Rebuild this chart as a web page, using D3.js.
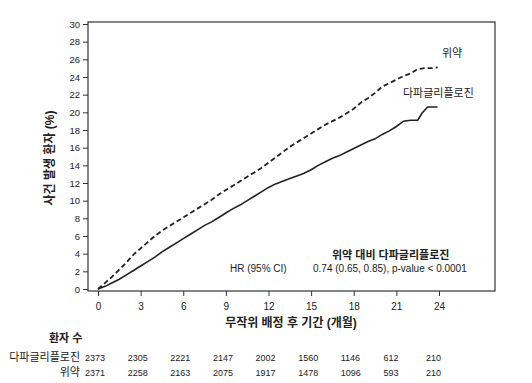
<!DOCTYPE html>
<html>
<head>
<meta charset="utf-8">
<script src="https://d3js.org/d3.v7.min.js"></script>
<style>
	body { margin: 0; background: #fff; }
	svg text { font-family: "Liberation Sans", Arial, "Noto Sans CJK KR", sans-serif; fill: #222; }
	.bold { font-weight: bold; }
</style>
</head>
<body>
<svg id="chart" width="532" height="383"></svg>
<script>
// months and cumulative event rates (%)
var placeboMonths = [0, 0.5, 1, 1.5, 2, 2.5, 3, 3.5, 4, 4.5, 5, 5.5, 6, 6.5, 7, 7.5, 8, 8.5, 9, 9.5, 10, 10.5, 11, 11.5, 12, 12.5, 13, 13.5, 14, 14.5, 15, 15.5, 16, 16.5, 17, 17.5, 18, 18.5, 19, 19.5, 20, 20.5, 21, 21.5, 22, 22.5, 23, 23.5, 23.9];
var placeboRate = [0, 0.7, 1.4, 2.2, 3.0, 3.9, 4.6, 5.3, 6.0, 6.6, 7.1, 7.6, 8.1, 8.6, 9.1, 9.6, 10.1, 10.7, 11.2, 11.7, 12.2, 12.7, 13.2, 13.7, 14.3, 14.9, 15.5, 16.1, 16.6, 17.1, 17.6, 18.1, 18.6, 19.0, 19.4, 19.9, 20.4, 21.1, 21.6, 22.2, 22.9, 23.3, 23.7, 24.1, 24.4, 24.9, 25.0, 25.0, 25.1];
var dapaMonths = [0, 0.5, 1, 1.5, 2, 2.5, 3, 3.5, 4, 4.5, 5, 5.5, 6, 6.5, 7, 7.5, 8, 8.5, 9, 9.5, 10, 10.5, 11, 11.5, 12, 12.5, 13, 13.5, 14, 14.5, 15, 15.5, 16, 16.5, 17, 17.5, 18, 18.5, 19, 19.5, 20, 20.5, 21, 21.5, 22, 22.5, 22.8, 23.2, 23.9];
var dapaRate = [0, 0.3, 0.7, 1.1, 1.6, 2.1, 2.6, 3.1, 3.6, 4.2, 4.7, 5.2, 5.7, 6.2, 6.7, 7.2, 7.6, 8.1, 8.6, 9.1, 9.5, 10.0, 10.5, 11.0, 11.5, 11.9, 12.2, 12.5, 12.8, 13.1, 13.5, 14.0, 14.4, 14.8, 15.1, 15.5, 15.9, 16.3, 16.7, 17.0, 17.5, 17.9, 18.4, 19.0, 19.1, 19.1, 19.9, 20.6, 20.6];

var xTicks = [0, 3, 6, 9, 12, 15, 18, 21, 24];
var yTicks = [0, 2, 4, 6, 8, 10, 12, 14, 16, 18, 20, 22, 24, 26, 28, 30];
var atRiskDapa = [2373, 2305, 2221, 2147, 2002, 1560, 1146, 612, 210];
var atRiskPlacebo = [2371, 2258, 2163, 2075, 1917, 1478, 1096, 593, 210];

var svg = d3.select("#chart");

var x = d3.scaleLinear().domain([0, 24]).range([98, 439]);
var y = d3.scaleLinear().domain([0, 30]).range([289, 24]);

// frame
svg.append("rect")
	.attr("x", 88).attr("y", 22)
	.attr("width", 407).attr("height", 269)
	.attr("fill", "none").attr("stroke", "#333").attr("stroke-width", 1.2);

// y axis
var gy = svg.append("g")
	.attr("transform", "translate(88,0)")
	.call(d3.axisLeft(y).tickValues(yTicks).tickSize(5).tickPadding(3))
gy.select(".domain").remove();
gy.selectAll("line").attr("stroke", "#333");
gy.selectAll("text").style("font-size", "9.5px");

// x axis
var gx = svg.append("g")
	.attr("transform", "translate(0,291)")
	.call(d3.axisBottom(x).tickValues(xTicks).tickSize(5).tickPadding(7))
gx.select(".domain").remove();
gx.selectAll("line").attr("stroke", "#333");
gx.selectAll("text").style("font-size", "10px");

// axis titles
svg.append("text")
	.attr("class", "bold")
	.attr("transform", "translate(54,158) rotate(-90)")
	.attr("text-anchor", "middle")
	.style("font-size", "12px")
	.text("사건 발생 환자 (%)");

svg.append("text")
	.attr("class", "bold")
	.attr("x", 291).attr("y", 327)
	.attr("text-anchor", "middle")
	.style("font-size", "12px")
	.text("무작위 배정 후 기간 (개월)");

// curves
var line = d3.line()
	.x(function (d) { return x(d[0]); })
	.y(function (d) { return y(d[1]); });

svg.append("path")
	.datum(d3.zip(placeboMonths, placeboRate))
	.attr("d", line)
	.attr("fill", "none").attr("stroke", "#222")
	.attr("stroke-width", 1.8)
	.attr("stroke-dasharray", "5,3");

svg.append("path")
	.datum(d3.zip(dapaMonths, dapaRate))
	.attr("d", line)
	.attr("fill", "none").attr("stroke", "#222")
	.attr("stroke-width", 1.6);

// line labels
svg.append("text").attr("x", 442).attr("y", 57)
	.style("font-size", "11px").text("위약");
svg.append("text").attr("x", 403).attr("y", 97)
	.style("font-size", "11px").text("다파글리플로진");

// HR annotation
svg.append("text").attr("class", "bold")
	.attr("x", 332).attr("y", 259)
	.style("font-size", "11px").text("위약 대비 다파글리플로진");
svg.append("text").attr("x", 230).attr("y", 272)
	.style("font-size", "10px").text("HR (95% CI)");
svg.append("text").attr("x", 313).attr("y", 272)
	.style("font-size", "10px").text("0.74 (0.65, 0.85), p-value < 0.0001");

// number at risk
svg.append("text").attr("class", "bold")
	.attr("x", 49).attr("y", 342)
	.style("font-size", "11px").text("환자 수");

var rows = [
	{ label: "다파글리플로진", values: atRiskDapa, y: 361 },
	{ label: "위약", values: atRiskPlacebo, y: 376 }
];
rows.forEach(function (r) {
	svg.append("text").attr("x", 80).attr("y", r.y)
		.attr("text-anchor", "end")
		.style("font-size", "11px").text(r.label);
	svg.selectAll(null).data(r.values).enter().append("text")
		.attr("x", function (d, i) { return x(xTicks[i]) - 13; })
		.attr("y", r.y)
		.style("font-size", "9px")
		.text(function (d) { return d; });
});
</script>
</body>
</html>
